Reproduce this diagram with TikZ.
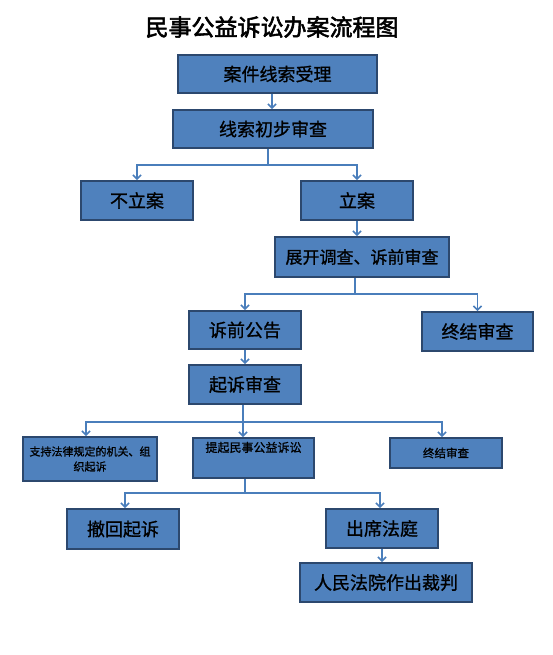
\documentclass[tikz,border=0pt]{standalone}
\usepackage{fontspec}
\newfontfamily\cjk[FakeBold=1]{Noto Sans CJK SC}
\newfontfamily\cjkb[FakeBold=2.5]{Noto Sans CJK SC}
\usetikzlibrary{arrows.meta}
\definecolor{boxfill}{RGB}{79,129,189}
\definecolor{boxline}{RGB}{44,72,110}
\definecolor{conn}{RGB}{74,126,187}
\tikzset{
  box/.style={draw=boxline, line width=1.8pt, fill=boxfill, inner sep=0pt, align=center, text=black, font=\cjk\fontsize{18}{20}\selectfont},
  smallbox/.style={box, font=\cjk\fontsize{11}{15}\selectfont},
  ln/.style={draw=conn, line width=1.6pt},
  arr/.style={ln, -{Straight Barb[length=4pt,width=8pt,line width=1.6pt]}}
}
\begin{document}
\begin{tikzpicture}[x=1pt,y=-1pt]
\fill[white] (0,0) rectangle (553,655);
\useasboundingbox (0,0) rectangle (553,655);
\node[font=\cjkb\fontsize{23}{26}\selectfont] (title) at (272,27) {民事公益诉讼办案流程图};
\node[box, minimum width=199pt, minimum height=38pt] (b1) at (277.5,74) {案件线索受理};
\node[box, minimum width=200pt, minimum height=38pt] (b2) at (273,129) {线索初步审查};
\node[box, minimum width=112pt, minimum height=39pt] (b3) at (137,200.5) {不立案};
\node[box, minimum width=112pt, minimum height=39pt] (b4) at (357,200.5) {立案};
\node[box, minimum width=174pt, minimum height=40pt, font=\cjk\fontsize{17}{20}\selectfont] (b5) at (362,257) {展开调查、诉前审查};
\node[box, minimum width=112pt, minimum height=38pt] (b6) at (245,330) {诉前公告};
\node[box, minimum width=111pt, minimum height=39pt] (b7) at (477.5,331.5) {终结审查};
\node[box, minimum width=112pt, minimum height=39pt] (b8) at (245,384.5) {起诉审查};
\node[smallbox, minimum width=134pt, minimum height=44pt] (b9) at (90,459) {支持法律规定的机关、组\\织起诉};
\node[smallbox, minimum width=121pt, minimum height=40pt, font=\cjk\fontsize{12}{17}\selectfont] (b10) at (253.5,458) {提起民事公益诉讼\\\strut};
\node[smallbox, minimum width=112pt, minimum height=30pt, font=\cjk\fontsize{11.5}{15}\selectfont] (b11) at (446,453) {终结审查};
\node[box, minimum width=112pt, minimum height=40pt] (b12) at (123,529) {撤回起诉};
\node[box, minimum width=112pt, minimum height=39pt] (b13) at (382,528.5) {出席法庭};
\node[box, minimum width=172pt, minimum height=39pt] (b14) at (386,582.5) {人民法院作出裁判};
% connectors
\coordinate (a1) at (272,0);
\draw[arr] (b1.south -| a1) -- (b2.north -| a1);
\coordinate (j1) at (268,165);
\draw[ln] (b2.south -| j1) -- (j1);
\draw[arr] (j1) -| (b3.north);
\draw[arr] (j1) -| (b4.north);
\draw[arr] (b4.south) -- (b4.south |- b5.north);
\coordinate (j2) at (355,294);
\draw[ln] (b5.south -| j2) -- (j2);
\draw[arr] (j2) -| (b6.north);
\draw[arr] (j2) -| (b7.north);
\draw[arr] (b6.south) -- (b8.north);
\coordinate (j3) at (243,422);
\draw[ln] (b8.south -| j3) -- (j3);
\draw[arr] (j3) -| ([xshift=-4pt]b9.north);
\draw[arr] (j3) -- (b10.north -| j3);
\draw[arr] (j3) -| ([xshift=-4pt]b11.north);
\coordinate (j4) at (245,493);
\draw[ln] (b10.south -| j4) -- (j4);
\draw[arr] (j4) -| ([xshift=2pt]b12.north);
\draw[arr] (j4) -| ([xshift=-2pt]b13.north);
\draw[arr] (b13.south) -- (b13.south |- b14.north);
\end{tikzpicture}
\end{document}
